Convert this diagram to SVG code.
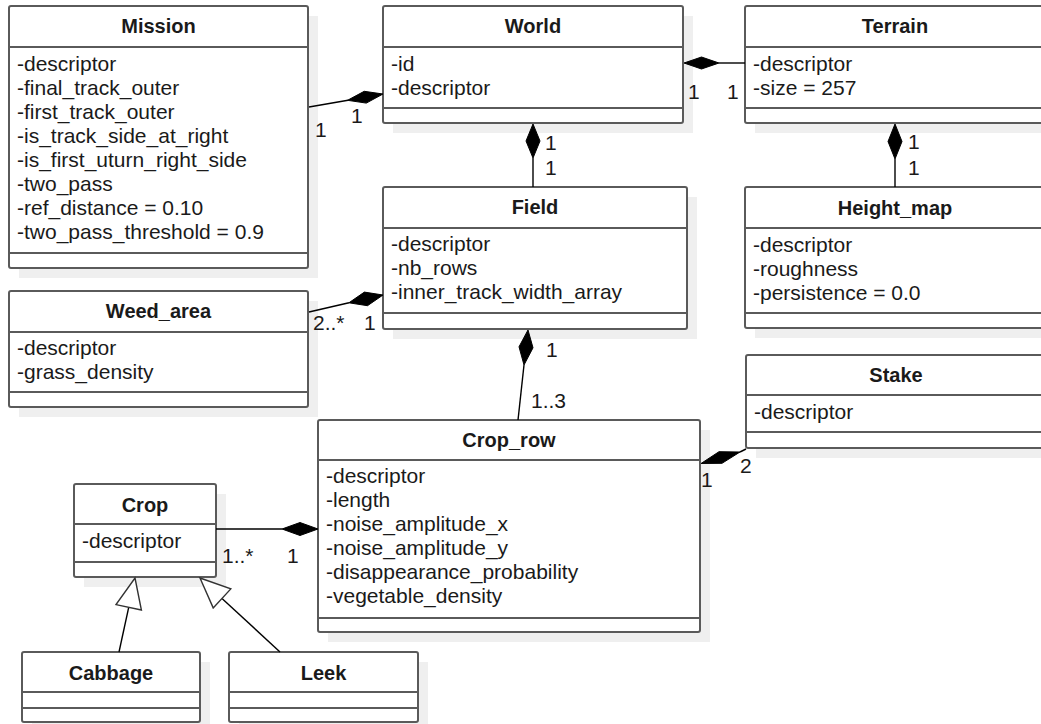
<svg xmlns="http://www.w3.org/2000/svg" width="1041" height="724" viewBox="0 0 1041 724">
<style>
.bg{fill:#ffffff}
.sh{fill:#efefef}
.box{fill:#ffffff;stroke:#5a5a5a;stroke-width:2}
.sep{stroke:#5a5a5a;stroke-width:2}
.t{font-family:"Liberation Sans",Arial,sans-serif;font-size:20px;font-weight:bold;fill:#1a1a1a;text-anchor:middle}
.a{font-family:"Liberation Sans",Arial,sans-serif;font-size:21px;fill:#1a1a1a}
.l{font-family:"Liberation Sans",Arial,sans-serif;font-size:21px;fill:#1a1a1a}
.c{fill:none;stroke:#000;stroke-width:1.4}
.d{fill:#000;stroke:#000;stroke-width:1}
.g{fill:#fff;stroke:#333;stroke-width:1.4}
</style>
<rect class="bg" x="0" y="0" width="1041" height="724"/>

<g id="Mission">
<rect class="sh" x="19" y="16" width="299" height="262"/>
<rect class="box" x="9" y="6" width="299" height="262" rx="2"/>
<line class="sep" x1="9" y1="47" x2="308" y2="47"/>
<line class="sep" x1="9" y1="253" x2="308" y2="253"/>
<text class="t" x="158.5" y="33">Mission</text>
<text class="a" x="17" y="71">-descriptor</text>
<text class="a" x="17" y="95">-final_track_outer</text>
<text class="a" x="17" y="119">-first_track_outer</text>
<text class="a" x="17" y="143">-is_track_side_at_right</text>
<text class="a" x="17" y="167">-is_first_uturn_right_side</text>
<text class="a" x="17" y="191">-two_pass</text>
<text class="a" x="17" y="215">-ref_distance = 0.10</text>
<text class="a" x="17" y="239">-two_pass_threshold = 0.9</text>
</g>

<g id="World">
<rect class="sh" x="393" y="16" width="300" height="117"/>
<rect class="box" x="383" y="6" width="300" height="117" rx="2"/>
<line class="sep" x1="383" y1="47" x2="683" y2="47"/>
<line class="sep" x1="383" y1="108" x2="683" y2="108"/>
<text class="t" x="533" y="33">World</text>
<text class="a" x="391" y="71">-id</text>
<text class="a" x="391" y="95">-descriptor</text>
</g>

<g id="Terrain">
<rect class="sh" x="755" y="16" width="300" height="117"/>
<rect class="box" x="745" y="6" width="300" height="117" rx="2"/>
<line class="sep" x1="745" y1="47" x2="1045" y2="47"/>
<line class="sep" x1="745" y1="108" x2="1045" y2="108"/>
<text class="t" x="895" y="33">Terrain</text>
<text class="a" x="753" y="71">-descriptor</text>
<text class="a" x="753" y="95">-size = 257</text>
</g>

<g id="Field">
<rect class="sh" x="393" y="197" width="304" height="142"/>
<rect class="box" x="383" y="187" width="304" height="142" rx="2"/>
<line class="sep" x1="383" y1="228" x2="687" y2="228"/>
<line class="sep" x1="383" y1="313" x2="687" y2="313"/>
<text class="t" x="535" y="214">Field</text>
<text class="a" x="391" y="251">-descriptor</text>
<text class="a" x="391" y="275">-nb_rows</text>
<text class="a" x="391" y="299">-inner_track_width_array</text>
</g>

<g id="Height_map">
<rect class="sh" x="755" y="197" width="300" height="141"/>
<rect class="box" x="745" y="187" width="300" height="141" rx="2"/>
<line class="sep" x1="745" y1="228" x2="1045" y2="228"/>
<line class="sep" x1="745" y1="313" x2="1045" y2="313"/>
<text class="t" x="895" y="215">Height_map</text>
<text class="a" x="753" y="252">-descriptor</text>
<text class="a" x="753" y="276">-roughness</text>
<text class="a" x="753" y="300">-persistence = 0.0</text>
</g>

<g id="Weed_area">
<rect class="sh" x="19" y="301" width="299" height="116"/>
<rect class="box" x="9" y="291" width="299" height="116" rx="2"/>
<line class="sep" x1="9" y1="332" x2="308" y2="332"/>
<line class="sep" x1="9" y1="392" x2="308" y2="392"/>
<text class="t" x="158.5" y="318">Weed_area</text>
<text class="a" x="17" y="355">-descriptor</text>
<text class="a" x="17" y="379">-grass_density</text>
</g>

<g id="Stake">
<rect class="sh" x="756" y="365" width="300" height="93"/>
<rect class="box" x="746" y="355" width="300" height="93" rx="2"/>
<line class="sep" x1="746" y1="395" x2="1046" y2="395"/>
<line class="sep" x1="746" y1="432" x2="1046" y2="432"/>
<text class="t" x="896" y="382">Stake</text>
<text class="a" x="754" y="419">-descriptor</text>
</g>

<g id="Crop_row">
<rect class="sh" x="328" y="430" width="382" height="212"/>
<rect class="box" x="318" y="420" width="382" height="212" rx="2"/>
<line class="sep" x1="318" y1="460" x2="700" y2="460"/>
<line class="sep" x1="318" y1="618" x2="700" y2="618"/>
<text class="t" x="509" y="447">Crop_row</text>
<text class="a" x="326" y="483">-descriptor</text>
<text class="a" x="326" y="507">-length</text>
<text class="a" x="326" y="531">-noise_amplitude_x</text>
<text class="a" x="326" y="555">-noise_amplitude_y</text>
<text class="a" x="326" y="579">-disappearance_probability</text>
<text class="a" x="326" y="603">-vegetable_density</text>
</g>

<g id="Crop">
<rect class="sh" x="84" y="494" width="142" height="93"/>
<rect class="box" x="74" y="484" width="142" height="93" rx="2"/>
<line class="sep" x1="74" y1="524" x2="216" y2="524"/>
<line class="sep" x1="74" y1="562" x2="216" y2="562"/>
<text class="t" x="145" y="512">Crop</text>
<text class="a" x="82" y="548">-descriptor</text>
</g>

<g id="Cabbage">
<rect class="sh" x="32" y="662" width="178" height="70"/>
<rect class="box" x="22" y="652" width="178" height="70" rx="2"/>
<line class="sep" x1="22" y1="692" x2="200" y2="692"/>
<line class="sep" x1="22" y1="708" x2="200" y2="708"/>
<text class="t" x="111" y="680">Cabbage</text>
</g>

<g id="Leek">
<rect class="sh" x="239" y="662" width="189" height="70"/>
<rect class="box" x="229" y="652" width="189" height="70" rx="2"/>
<line class="sep" x1="229" y1="692" x2="418" y2="692"/>
<line class="sep" x1="229" y1="708" x2="418" y2="708"/>
<text class="t" x="323.5" y="680">Leek</text>
</g>

<g id="connectors">
<!-- Mission - World -->
<line class="c" x1="309" y1="107" x2="348" y2="100.3"/>
<polygon class="d" points="383,94 366.3,103.1 347.5,100.3 364.2,91.3"/>
<text class="l" x="315" y="137">1</text>
<text class="l" x="351" y="123">1</text>
<!-- World - Terrain -->
<line class="c" x1="719" y1="63" x2="745" y2="63"/>
<polygon class="d" points="684,63 701.5,57 719,63 701.5,69"/>
<text class="l" x="688" y="99">1</text>
<text class="l" x="727" y="99">1</text>
<!-- World - Field -->
<line class="c" x1="533" y1="158" x2="533" y2="187"/>
<polygon class="d" points="533,124 540,141 533,158 526,141"/>
<text class="l" x="545" y="150">1</text>
<text class="l" x="545" y="175">1</text>
<!-- Terrain - Height_map -->
<line class="c" x1="895" y1="159" x2="895" y2="187"/>
<polygon class="d" points="895,124 902,141.5 895,159 888,141.5"/>
<text class="l" x="908" y="149">1</text>
<text class="l" x="908" y="175">1</text>
<!-- Weed_area - Field -->
<line class="c" x1="309" y1="312" x2="349" y2="302.8"/>
<polygon class="d" points="383,295 367.5,305.7 348.9,302.8 364.4,292.1"/>
<text class="l" x="313" y="330">2..*</text>
<text class="l" x="364" y="330">1</text>
<!-- Field - Crop_row -->
<line class="c" x1="524" y1="365" x2="518" y2="420"/>
<polygon class="d" points="528,330 533,347.8 524,365 519,346.8"/>
<text class="l" x="546" y="357">1</text>
<text class="l" x="531" y="408">1..3</text>
<!-- Stake - Crop_row -->
<line class="c" x1="746" y1="449" x2="740" y2="452"/>
<polygon class="d" points="740,452 722,463.3 701,463.5 719,451.7"/>
<text class="l" x="701" y="487">1</text>
<text class="l" x="740" y="473">2</text>
<!-- Crop - Crop_row -->
<line class="c" x1="216" y1="529" x2="282" y2="529"/>
<polygon class="d" points="318,529 300,535.5 282,529 300,522.5"/>
<text class="l" x="222" y="563">1..*</text>
<text class="l" x="287" y="563">1</text>
<!-- Cabbage - Crop generalization -->
<line class="c" x1="119" y1="652" x2="128.7" y2="607.3"/>
<polygon class="g" points="135,578 141.4,610 116,604.6"/>
<!-- Leek - Crop generalization -->
<line class="c" x1="280" y1="652" x2="222" y2="598.4"/>
<polygon class="g" points="200,578 230.8,588.9 213.2,607.9"/>
</g>
</svg>
